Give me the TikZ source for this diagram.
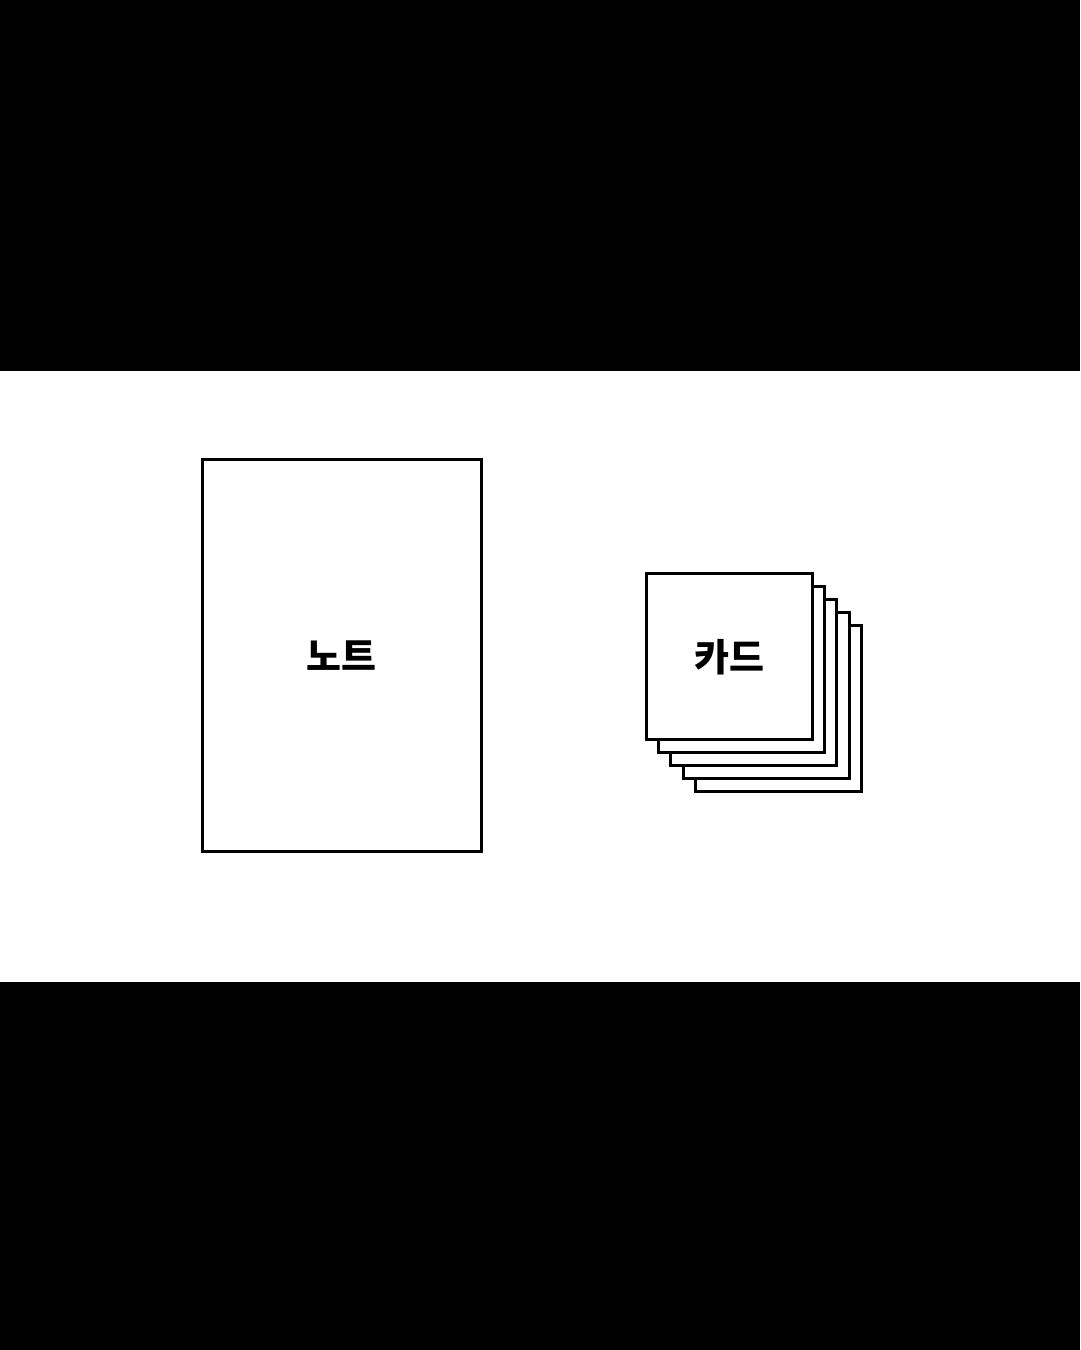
\documentclass[tikz,border=0pt]{standalone}
\usepackage{fontspec}
\newfontfamily\kofont{Noto Sans CJK KR}
\usetikzlibrary{positioning}

\begin{document}
\begin{tikzpicture}[x=1pt,y=1pt,
    sheet/.style={draw,line width=3pt,fill=white,inner sep=0pt,outer sep=0pt},
    label/.style={font=\kofont\bfseries\fontsize{38}{38}\selectfont}]
\useasboundingbox (0,0) rectangle (1080,1350);
\fill[black] (0,0) rectangle (1080,1350);
\fill[white] (0,368) rectangle (1080,979);
% note
\node [sheet,minimum width=279pt,minimum height=392pt] (note) at (341.5,694) {};
\node [label] (notetext) at (note.center) {노트};
% cards
\foreach \i in {4,3,2,1}
  \node [sheet,minimum width=166pt,minimum height=166pt] (card\i) at (729+12.4*\i,693-12.9*\i) {};
\node [sheet,minimum width=166pt,minimum height=166pt] (card0) at (729,693) {};
\node [label] (cardtext) at (card0.center) {카드};
\end{tikzpicture}
\end{document}
